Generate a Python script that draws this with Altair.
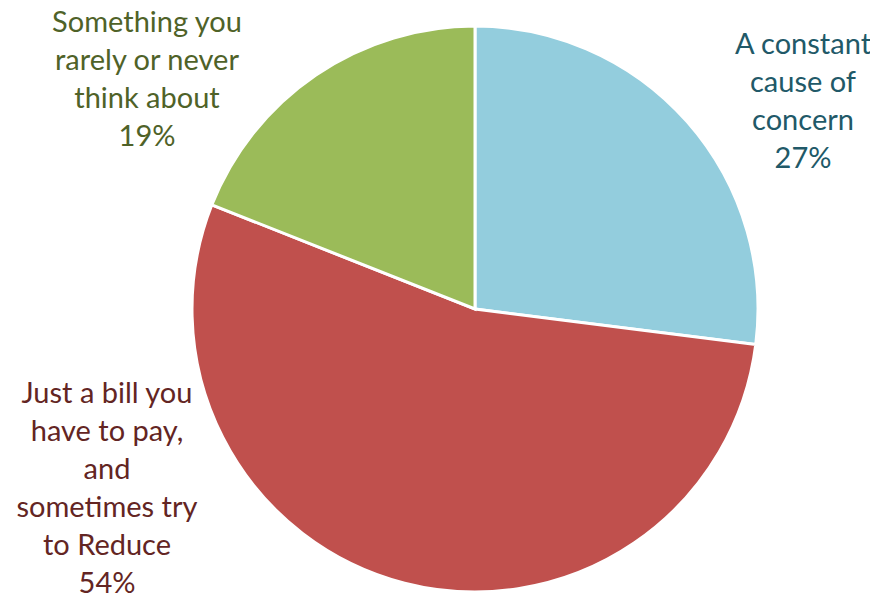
import altair as alt
import pandas as pd

categories = ["A constant cause of concern",
              "Just a bill you have to pay, and sometimes try to Reduce",
              "Something you rarely or never think about"]
label_lines = ["A constant\ncause of\nconcern",
               "Just a bill you\nhave to pay,\nand\nsometimes try\nto Reduce",
               "Something you\nrarely or never\nthink about"]
values = [27, 54, 19]
order = [1, 2, 3]
slice_colors = ["#93CDDD", "#C0504D", "#9BBB59"]
text_colors = ["#215968", "#632523", "#4F6228"]

df = pd.DataFrame({"category": categories, "label": label_lines,
                   "value": values, "order": order})

base = alt.Chart(df)

pie = base.mark_arc(radius=283, stroke="white", strokeWidth=3).encode(
    theta=alt.Theta("value:Q", stack=True),
    order=alt.Order("order:Q"),
    color=alt.Color("category:N", scale=alt.Scale(domain=categories, range=slice_colors), legend=None),
    x=alt.value(467),
    y=alt.value(301),
)

label_pos = [(795, 37), (99, 386), (139, 15)]

layers = [pie]
for cat, col, (px, py) in zip(categories, text_colors, label_pos):
    t = base.transform_filter(alt.datum.category == cat).transform_calculate(
        txt="datum.label + '\\n' + datum.value + '%'"
    ).mark_text(font="Lato", fontSize=29, color=col, align="center",
                baseline="middle", lineBreak="\n", lineHeight=38).encode(
        text="txt:N", x=alt.value(px), y=alt.value(py))
    layers.append(t)

chart = alt.layer(*layers).properties(
    width=862, height=586, autosize=alt.AutoSizeParams(type="none"), padding=0
).configure_view(stroke=None)

chart.save("out.html", embed_options={"renderer": "svg", "actions": False})
